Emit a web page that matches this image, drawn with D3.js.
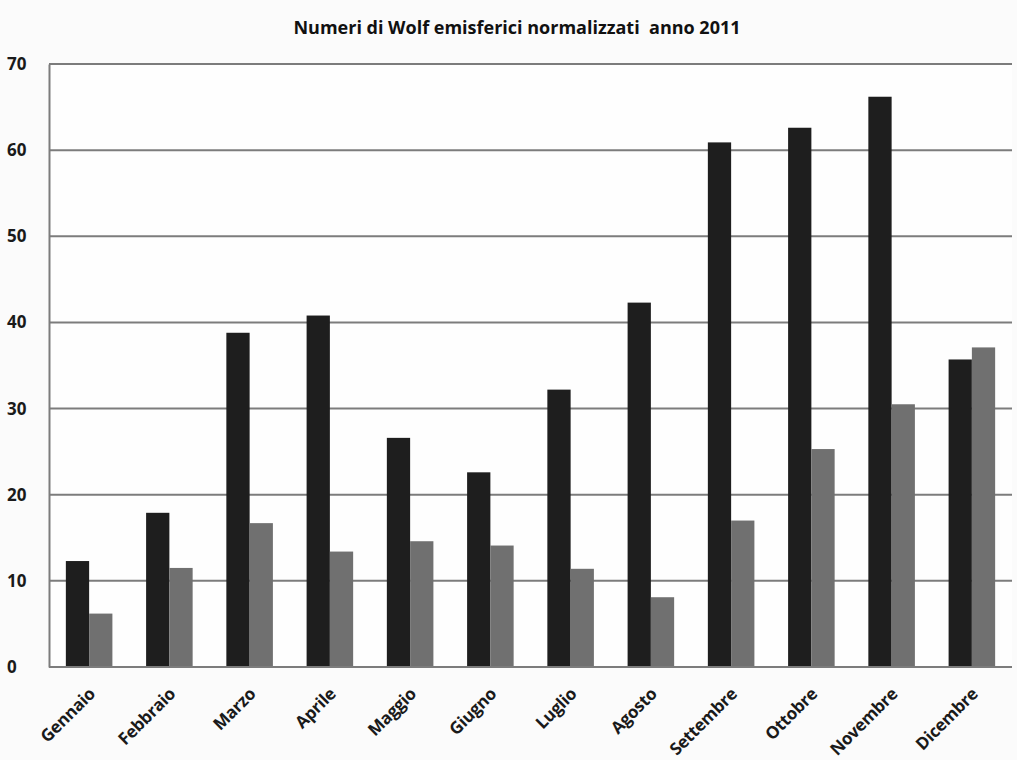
<!DOCTYPE html>
<html>
<head>
<meta charset="utf-8">
<script src="https://cdn.jsdelivr.net/npm/d3@7"></script>
<style>
  html, body { margin: 0; padding: 0; background: #fbfbfb; }
  svg { display: block; }
  .tick text { font-family: "Open Sans", "Liberation Sans", sans-serif; font-weight: 700; }
</style>
</head>
<body>
<svg id="chart" width="1017" height="760"></svg>
<script>
// Monthly hemispheric Wolf numbers (normalised), 2011
const months = ["Gennaio", "Febbraio", "Marzo", "Aprile", "Maggio", "Giugno",
                "Luglio", "Agosto", "Settembre", "Ottobre", "Novembre", "Dicembre"];
const seriesNorth = [12.3, 17.9, 38.8, 40.8, 26.6, 22.6, 32.2, 42.3, 60.9, 62.6, 66.2, 35.7];
const seriesSouth = [6.2, 11.5, 16.7, 13.4, 14.6, 14.1, 11.4, 8.1, 17.0, 25.3, 30.5, 37.1];
const yTicks = [0, 10, 20, 30, 40, 50, 60, 70];
const titleText = "Numeri di Wolf emisferici normalizzati  anno 2011";

const svg = d3.select("#chart");
const W = 1017, H = 760;
const m = { left: 49, right: 5, top: 64, bottom: 93 };

const x = d3.scaleBand().domain(months)
  .range([m.left, W - m.right])
  .paddingInner(0.42).paddingOuter(0.21);
const xs = d3.scaleBand().domain([0, 1]).range([0, x.bandwidth()]);
const y = d3.scaleLinear().domain([0, 70]).range([H - m.bottom, m.top]);

// plot background
svg.append("rect")
  .attr("x", m.left).attr("y", m.top)
  .attr("width", W - m.right - m.left).attr("height", H - m.bottom - m.top)
  .attr("fill", "#fefefe");

// horizontal gridlines
svg.append("g")
  .selectAll("line").data(yTicks.filter(d => d > 0)).join("line")
  .attr("x1", m.left).attr("x2", W - m.right)
  .attr("y1", d => y(d)).attr("y2", d => y(d))
  .attr("stroke", "#7c7c7c").attr("stroke-width", 2);

// bars
const data = months.map((mo, i) => ({ mo, vals: [seriesNorth[i], seriesSouth[i]] }));
const colors = ["#1e1e1e", "#707070"];
svg.append("g").selectAll("g").data(data).join("g")
  .attr("transform", d => `translate(${x(d.mo)},0)`)
  .selectAll("rect").data(d => d.vals.map((v, k) => ({ v, k }))).join("rect")
  .attr("x", d => xs(d.k)).attr("width", xs.bandwidth())
  .attr("y", d => y(d.v)).attr("height", d => y(0) - y(d.v))
  .attr("fill", d => colors[d.k]);

// y axis
const yAxis = svg.append("g")
  .attr("transform", `translate(${m.left},0)`)
  .call(d3.axisLeft(y).tickValues(yTicks).tickSize(0).tickPadding(12));
yAxis.select(".domain").attr("stroke", "#7c7c7c").attr("stroke-width", 2);
yAxis.selectAll(".tick text").attr("font-size", 17).attr("fill", "#1a1a1a")
  .attr("text-anchor", "start").attr("x", -42);

// x axis
const xAxis = svg.append("g")
  .attr("transform", `translate(0,${y(0)})`)
  .call(d3.axisBottom(x).tickSize(0).tickPadding(0));
xAxis.select(".domain").attr("stroke", "#7c7c7c").attr("stroke-width", 2)
  .attr("d", `M${m.left},0H${W - m.right}`);
xAxis.selectAll(".tick text")
  .attr("font-size", 17).attr("fill", "#1a1a1a")
  .attr("letter-spacing", -0.3)
  .attr("text-anchor", "end")
  .attr("dy", 0).attr("y", 0)
  .attr("transform", "translate(7,28) rotate(-45)");

// title
svg.append("text")
  .attr("x", 517).attr("y", 34)
  .attr("text-anchor", "middle")
  .attr("font-family", "'Liberation Sans Narrow', 'Open Sans', sans-serif")
  .attr("font-weight", 700).attr("font-size", 18)
  .attr("fill", "#111")
  .style("white-space", "pre")
  .text(titleText);
</script>
</body>
</html>
